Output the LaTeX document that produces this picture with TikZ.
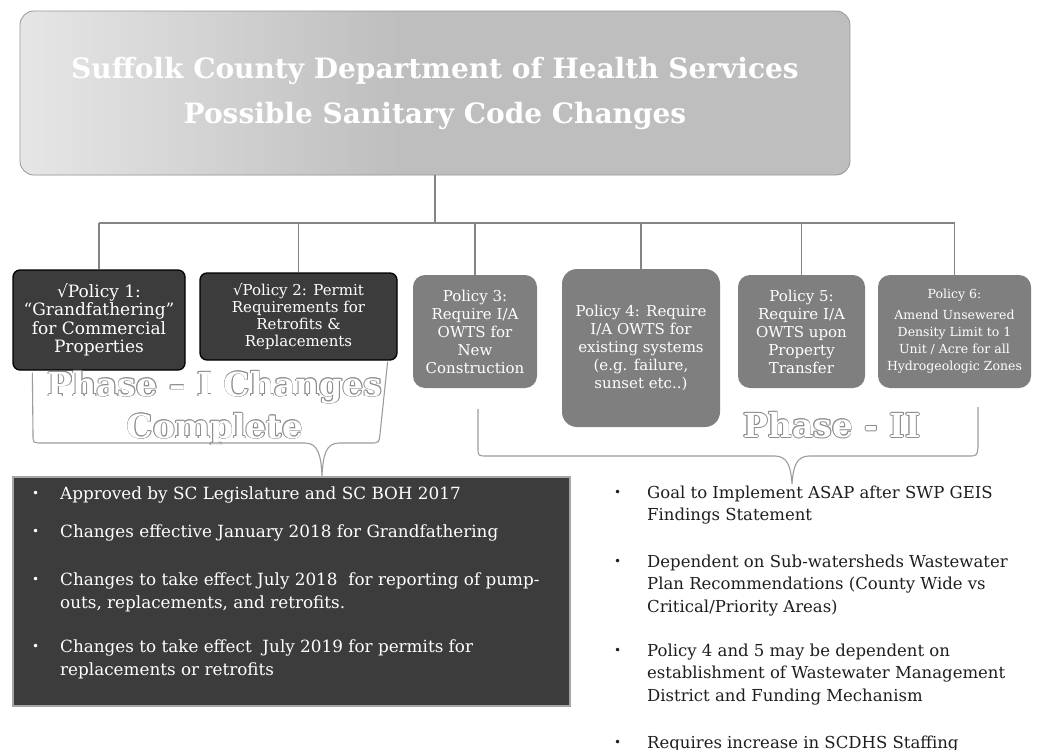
\documentclass[tikz,border=0pt]{standalone}
\usepackage{fontspec}
\setmainfont{DejaVu Serif}
\usetikzlibrary{calc}

\definecolor{bannerGray}{HTML}{BEBEBE}
\definecolor{bannerLight}{HTML}{E6E6E6}
\definecolor{doneFill}{HTML}{3C3C3C}
\definecolor{planFill}{HTML}{7F7F7F}
\definecolor{linkGray}{HTML}{858585}
\definecolor{braceGray}{HTML}{9C9C9C}
\definecolor{outlineGray}{HTML}{8E8E8E}
\definecolor{noteText}{HTML}{1E1E1E}

% hollow lettering: grey copies around a white copy
\newcommand\hollowtext[1]{%
  \setbox0=\hbox{\color{outlineGray}#1}%
  \leavevmode
  \rlap{\kern.8pt\copy0}\rlap{\kern-.8pt\copy0}%
  \rlap{\raise.8pt\copy0}\rlap{\lower.8pt\copy0}%
  \rlap{\kern.57pt\raise.57pt\copy0}\rlap{\kern-.57pt\raise.57pt\copy0}%
  \rlap{\kern.57pt\lower.57pt\copy0}\rlap{\kern-.57pt\lower.57pt\copy0}%
  \hbox{\color{white}#1}}
\newcommand\dotmark{\raisebox{1.5pt}{\fontsize{12}{12}\selectfont •}}

\begin{document}
\begin{tikzpicture}[x=1pt,y=-1pt,
  banner/.style={rectangle, rounded corners=14pt, draw=bannerGray!80!black, line width=.8pt,
    text=white, align=center, font=\fontsize{28}{45}\selectfont\bfseries,
    path picture={
      \fill[bannerGray] (path picture bounding box.south west) rectangle (path picture bounding box.north east);
      \shade[left color=bannerLight, right color=bannerGray]
        (path picture bounding box.south west) rectangle ($(path picture bounding box.north west)+(380,0)$);
    }},
  donebox/.style={rectangle, rounded corners=7pt, fill=doneFill, draw=black, line width=1.3pt,
    text=white, align=center, inner sep=0pt},
  planbox/.style={rectangle, rounded corners=12pt, fill=planFill, text=white, align=center,
    inner sep=0pt, font=\fontsize{15}{18}\selectfont},
  phasetext/.style={align=center, inner sep=0pt},
  notesbox/.style={rectangle, fill=doneFill, draw=gray!70, line width=1.5pt},
  note/.style={anchor=base west, inner sep=0pt},
  leftnote/.style={note, text=white, font=\fontsize{16.8}{23}\selectfont},
  rightnote/.style={note, text=noteText, font=\fontsize{16.5}{22.5}\selectfont},
  conn/.style={draw=linkGray, line width=1.3pt},
  bracket/.style={draw=braceGray, line width=1.1pt}]

\useasboundingbox (0,0) rectangle (1037,750);
\fill[white] (0,0) rectangle (1037,750);

% heading banner
\node[banner, minimum width=830, minimum height=164] (title) at (435,93)
  {Suffolk County Department of Health Services\\Possible Sanitary Code Changes};

% policy boxes
\node[donebox, minimum width=172, minimum height=100, font=\fontsize{17}{18.5}\selectfont] (p1) at (99,320)
  {√Policy 1:\\“Grandfathering”\\for Commercial\\Properties};
\node[donebox, minimum width=197, minimum height=87, font=\fontsize{15}{17}\selectfont] (p2) at (298.5,316.5)
  {√Policy 2: Permit\\Requirements for\\Retrofits \&\\Replacements};
\node[planbox, minimum width=124, minimum height=113] (p3) at (475,331.5)
  {Policy 3:\\Require I/A\\OWTS for\\New\\Construction};
\node[planbox, minimum width=158, minimum height=158, rounded corners=15pt] (p4) at (641,348)
  {Policy 4: Require\\I/A OWTS for\\existing systems\\(e.g. failure,\\sunset etc..)};
\node[planbox, minimum width=127, minimum height=113] (p5) at (801.5,331.5)
  {Policy 5:\\Require I/A\\OWTS upon\\Property\\Transfer};
\node[planbox, minimum width=153, minimum height=113, font=\fontsize{12.5}{17}\selectfont] (p6) at (954.5,331.5)
  {Policy 6:\\[4pt]Amend Unsewered\\Density Limit to 1\\Unit / Acre for all\\Hydrogeologic Zones};

% tree connectors
\coordinate (bus) at (435,223);
\draw[conn] (title.south) -- (title.south |- bus);
\draw[conn] (p1.north |- bus) -- (p6.north |- bus);
\foreach \b in {p1,p2,p3,p4,p5,p6}
  \draw[conn] (\b.north |- bus) -- (\b.north);

% phase labels
\node[phasetext, font=\fontsize{33}{42}\selectfont\bfseries] (ph1) at (215,408)
  {\hollowtext{Phase – I Changes}\\\hollowtext{Complete}};
\node[phasetext, font=\fontsize{33}{36}\selectfont\bfseries] (ph2) at (832,425)
  {\hollowtext{Phase - II}};

% summary box for phase I
\node[notesbox, minimum width=557, minimum height=229] (done) at (291.5,591.5) {};

% braces
\coordinate (b1L) at ($(p1.south west)+(20,2)$);
\coordinate (b1R) at ($(p2.south east)+(-10,1)$);
\coordinate (b1T) at (322,476);
\draw[bracket] (b1L) -- (33,434) .. controls (33,443) .. (42,443) -- (305,443)
  .. controls (318,443) and (321,455) .. (b1T)
  .. controls (323,455) and (326,443) .. (339,443) -- (370,443)
  .. controls (379,443) .. (380,434) -- (b1R);

\coordinate (b2L) at (478,409);
\coordinate (b2R) at (978,407);
\coordinate (b2T) at (792,484);
\draw[bracket] (b2L) -- (478,447) .. controls (478,456) .. (487,456) -- (775,456)
  .. controls (788,456) and (791,468) .. (b2T)
  .. controls (793,468) and (796,456) .. (809,456) -- (968,456)
  .. controls (977,456) .. (978,447) -- (b2R);

% phase I notes
\node[leftnote] (n1) at (32,499) {\begin{tabular}[t]{@{}p{28pt}@{}l@{}}\dotmark & Approved by SC Legislature and SC BOH 2017\end{tabular}};
\node[leftnote] (n2) at (32,537) {\begin{tabular}[t]{@{}p{28pt}@{}l@{}}\dotmark & Changes effective January 2018 for Grandfathering\end{tabular}};
\node[leftnote] (n3) at (32,585) {\begin{tabular}[t]{@{}p{28pt}@{}l@{}}\dotmark & Changes to take effect July 2018\ \ for reporting of pump-\\ & outs, replacements, and retrofits.\end{tabular}};
\node[leftnote] (n4) at (32,652) {\begin{tabular}[t]{@{}p{28pt}@{}l@{}}\dotmark & Changes to take effect\ \ July 2019 for permits for\\ & replacements or retrofits\end{tabular}};

% phase II notes
\node[rightnote] (m1) at (614,498) {\begin{tabular}[t]{@{}p{33pt}@{}l@{}}\dotmark & Goal to Implement ASAP after SWP GEIS\\ & Findings Statement\end{tabular}};
\node[rightnote] (m2) at (614,567) {\begin{tabular}[t]{@{}p{33pt}@{}l@{}}\dotmark & Dependent on Sub-watersheds Wastewater\\ & Plan Recommendations (County Wide vs\\ & Critical/Priority Areas)\end{tabular}};
\node[rightnote] (m3) at (614,656) {\begin{tabular}[t]{@{}p{33pt}@{}l@{}}\dotmark & Policy 4 and 5 may be dependent on\\ & establishment of Wastewater Management\\ & District and Funding Mechanism\end{tabular}};
\node[rightnote] (m4) at (614,748) {\begin{tabular}[t]{@{}p{33pt}@{}l@{}}\dotmark & Requires increase in SCDHS Staffing\end{tabular}};

\end{tikzpicture}
\end{document}
